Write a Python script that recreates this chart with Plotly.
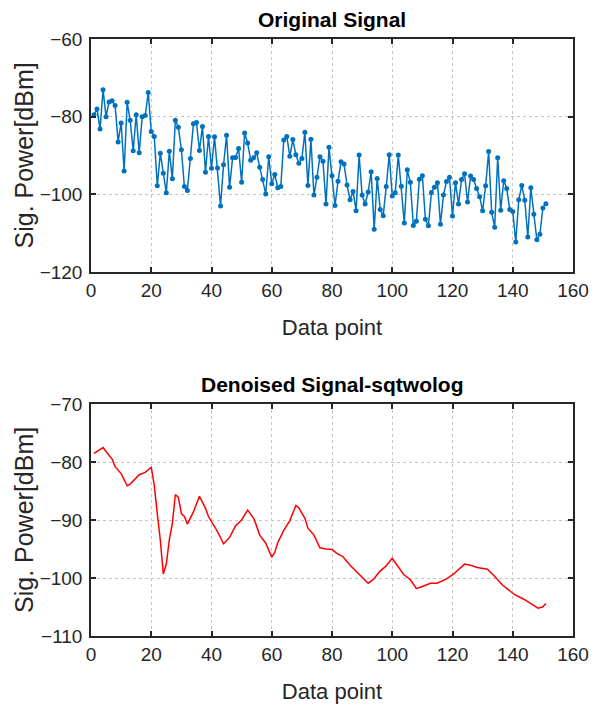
import plotly.graph_objects as go

# ---- data ----
orig_x = list(range(1, 152))
orig_y = [
    -79.5, -78.0, -83.2, -73.1, -80.0, -76.2, -75.9, -77.1, -86.5, -81.6,
    -94.0, -76.3, -80.9, -88.8, -79.5, -89.3, -80.0, -79.7, -73.8, -83.8,
    -85.1, -97.8, -89.4, -94.6, -99.6, -88.9, -96.0, -80.9, -82.7, -88.5,
    -98.0, -99.0, -90.8, -81.8, -81.5, -88.7, -82.5, -94.3, -85.1, -93.3,
    -85.2, -93.2, -103.0, -92.4, -84.8, -98.2, -90.6, -90.5, -88.2, -96.9,
    -84.2, -86.8, -91.2, -90.6, -89.3, -93.0, -96.2, -99.9, -90.3, -97.3,
    -94.9, -98.3, -98.0, -86.0, -85.1, -90.2, -85.9, -89.8, -92.0, -90.8,
    -84.0, -97.7, -85.8, -100.2, -95.6, -90.3, -91.5, -102.5, -87.9, -95.2,
    -102.9, -96.6, -91.6, -92.2, -97.6, -101.4, -99.3, -104.2, -89.9, -100.2,
    -102.5, -99.4, -94.2, -109.0, -95.9, -103.9, -105.5, -98.0, -89.8, -100.4,
    -99.6, -89.9, -97.9, -107.4, -93.7, -96.9, -108.0, -106.9, -96.1, -95.2,
    -106.4, -108.1, -99.5, -98.2, -97.0, -107.7, -100.2, -96.7, -95.6, -105.6,
    -97.0, -102.5, -96.2, -94.7, -102.0, -95.3, -96.2, -98.5, -100.6, -104.2,
    -97.8, -89.0, -104.6, -108.5, -90.6, -104.1, -96.5, -98.5, -103.9, -104.4,
    -112.3, -101.4, -97.7, -101.5, -111.0, -98.3, -105.1, -111.7, -110.3, -103.5,
    -102.4,
]

den_x = [1, 4, 5, 7, 8, 10, 12, 13, 16, 18, 20, 21, 22, 23, 24, 25, 26, 27, 28, 29,
         30, 31, 32, 34, 36, 38, 39, 40, 42, 44, 46, 48, 50, 52, 54, 55, 56, 58, 60,
         61, 62, 64, 66, 68, 69, 71, 72, 74, 76, 78, 80, 81.5, 83.6, 86, 88.4, 90.4,
         92, 93.8, 95.8, 97.8, 100, 101.6, 103.8, 106, 108, 109.3, 112.7, 114.9,
         118.2, 120.4, 124, 126, 128.2, 131.6, 133.8, 136.6, 140.4, 143.8, 146.6,
         148.4, 149.9, 151]
den_y = [-78.5, -77.5, -78.2, -79.5, -80.8, -82.0, -84.1, -83.8, -82.2, -81.8, -80.9,
         -84.0, -88.9, -93.4, -99.3, -97.6, -93.4, -90.6, -85.6, -86.1, -88.9, -89.4,
         -90.7, -88.6, -85.9, -88.0, -89.4, -90.3, -92.0, -94.1, -93.0, -91.0, -90.0,
         -88.3, -89.7, -91.1, -92.6, -94.0, -96.4, -95.6, -93.9, -91.8, -90.1, -87.5,
         -87.9, -89.7, -91.4, -92.6, -94.8, -95.0, -95.1, -95.7, -96.3, -97.8, -99.0,
         -100.1, -100.9, -100.2, -98.9, -98.0, -96.6, -97.8, -99.4, -100.3, -101.8,
         -101.6, -100.9, -100.9, -100.1, -99.3, -97.6, -97.8, -98.2, -98.5, -99.6,
         -101.2, -102.8, -103.7, -104.7, -105.2, -105.0, -104.4]

x_ticks = [0, 20, 40, 60, 80, 100, 120, 140, 160]
top_yticks = [-120, -100, -80, -60]
bot_yticks = [-110, -100, -90, -80, -70]

titles = ["Original Signal", "Denoised Signal-sqtwolog"]
x_label = "Data point"
y_label = "Sig. Power[dBm]"

FONT = "Liberation Sans, Arial, sans-serif"
AX = "#262626"

fig = go.Figure()
fig.add_trace(go.Scatter(x=orig_x, y=orig_y, mode="lines+markers",
                         line=dict(color="#0072BD", width=1.5),
                         marker=dict(color="#0072BD", size=5),
                         xaxis="x", yaxis="y", showlegend=False))
fig.add_trace(go.Scatter(x=den_x, y=den_y, mode="lines",
                         line=dict(color="#FF0000", width=1.5),
                         xaxis="x2", yaxis="y2", showlegend=False))

H = 712
top_px, bot_px = 39, 636
span = bot_px - top_px
d_top = [(bot_px - 272) / span, 1.0]
d_bot = [0.0, (bot_px - 404) / span]

common = dict(showline=True, linecolor=AX, linewidth=1.5, mirror="ticks",
              ticks="inside", ticklen=5, tickwidth=1.5, tickcolor=AX,
              showgrid=True, gridcolor="#c4c4c4", griddash="dot", gridwidth=1,
              zeroline=False, tickfont=dict(family=FONT, size=19, color="#262626"),
              title_font=dict(family=FONT, size=22, color="#262626"))

ann = []
for t, d in zip(titles, [d_top, d_bot]):
    ann.append(dict(text="<b>" + t + "</b>", x=0.5, y=d[1], xref="paper", yref="paper",
                    xanchor="center", yanchor="bottom", yshift=6, showarrow=False,
                    font=dict(family=FONT, size=21, color="black")))
    ann.append(dict(text=y_label, textangle=-90, x=0, y=(d[0] + d[1]) / 2,
                    xref="paper", yref="paper", xanchor="center", yanchor="middle",
                    xshift=-67, showarrow=False,
                    font=dict(family=FONT, size=25, color="#262626")))

fig.update_layout(
    width=602, height=H,
    margin=dict(l=91, r=29, t=top_px, b=H - bot_px),
    paper_bgcolor="white", plot_bgcolor="white",
    font=dict(family=FONT),
    xaxis=dict(domain=[0, 1], range=[0, 160], tickvals=x_ticks, anchor="y",
               title=dict(text=x_label, standoff=20), **common),
    yaxis=dict(domain=d_top, range=[-120, -60], tickvals=top_yticks, anchor="x",
               ticklabelstandoff=3, **common),
    xaxis2=dict(domain=[0, 1], range=[0, 160], tickvals=x_ticks, anchor="y2",
                title=dict(text=x_label, standoff=20), **common),
    yaxis2=dict(domain=d_bot, range=[-110, -70], tickvals=bot_yticks, anchor="x2",
                ticklabelstandoff=3, **common),
    annotations=ann,
)

fig.write_html("out.html")
